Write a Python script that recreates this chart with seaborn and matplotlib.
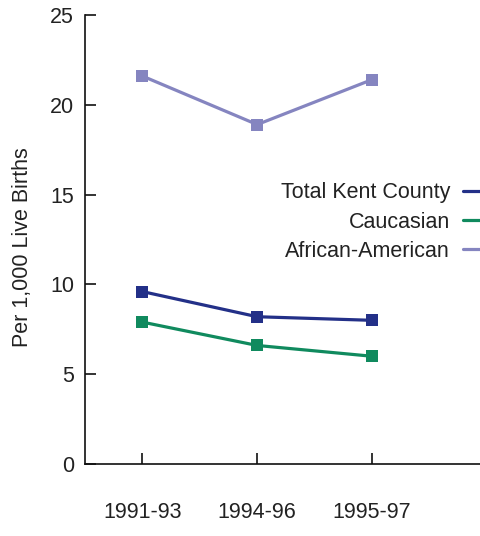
import matplotlib
matplotlib.use("Agg")
import matplotlib.pyplot as plt
import seaborn as sns
import pandas as pd

periods = ["1991-93", "1994-96", "1995-97"]
total_kent = [9.6, 8.2, 8.0]
caucasian = [7.9, 6.6, 6.0]
african_american = [21.6, 18.9, 21.4]
series_names = ["Total Kent County", "Caucasian", "African-American"]
colors = ["#233088", "#108a5e", "#8585c0"]
y_ticks = [0, 5, 10, 15, 20, 25]

sns.set_theme(style="ticks")
plt.rcParams["font.family"] = ["Liberation Sans", "DejaVu Sans"]

rows = []
for name, vals in zip(series_names, [total_kent, caucasian, african_american]):
    for p, v in zip(periods, vals):
        rows.append({"Period": p, "Rate": v, "Series": name})
df = pd.DataFrame(rows)

fig = plt.figure(figsize=(4.81, 5.36), dpi=100)
ax = fig.add_axes([85 / 481, 1 - 464 / 536, 1 - 85 / 481, (464 - 15) / 536])

sns.lineplot(data=df, x="Period", y="Rate", hue="Series", hue_order=series_names,
             palette=colors, marker="s", markersize=8, markeredgewidth=0,
             linewidth=2.3, ax=ax, sort=False)

fs = 15.5
ax.set_ylim(0, 25)
ax.set_xlim(-0.5, 2.95)
ax.set_yticks(y_ticks)
ax.set_xlabel("")
ax.set_ylabel("Per 1,000 Live Births", fontsize=fs, color="#222222")
ax.yaxis.set_label_coords(-0.132, 0.483)
for s in ["top", "right"]:
    ax.spines[s].set_visible(False)
for s in ["left", "bottom"]:
    ax.spines[s].set_linewidth(1.2)
    ax.spines[s].set_color("#111111")
ax.tick_params(axis="both", direction="in", length=8, width=1.2, color="#111111",
               labelsize=fs, labelcolor="#222222")
ax.tick_params(axis="x", pad=27)
ax.tick_params(axis="y", pad=8)

leg = ax.legend(loc="upper right", bbox_to_anchor=(1.02, 0.627), frameon=False,
                markerfirst=False, fontsize=fs, handlelength=1.2,
                handletextpad=0.6, labelspacing=0.38, borderpad=0, borderaxespad=0)
for line in leg.get_lines():
    line.set_marker("")
    line.set_linewidth(2.3)
for t in leg.get_texts():
    t.set_color("#222222")

fig.savefig("out.png", dpi=100)
